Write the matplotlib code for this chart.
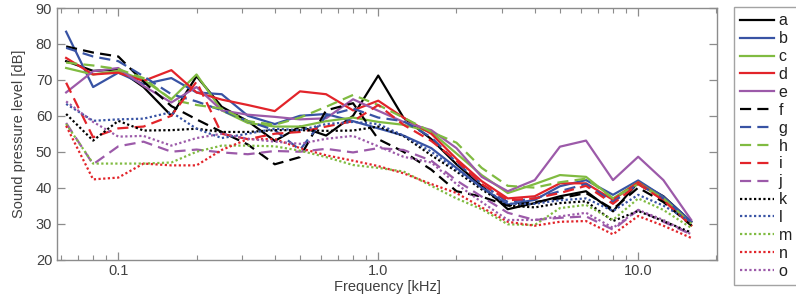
import matplotlib
matplotlib.use("Agg")
import matplotlib.pyplot as plt
from matplotlib.ticker import FixedLocator, FuncFormatter, NullFormatter, LogLocator
import numpy as np

plt.rcParams['font.family'] = ['Liberation Sans', 'DejaVu Sans']

freqs = [0.063, 0.08, 0.1, 0.125, 0.16, 0.2, 0.25, 0.315, 0.4, 0.5, 0.63, 0.8,
         1.0, 1.25, 1.6, 2.0, 2.5, 3.15, 4.0, 5.0, 6.3, 8.0, 10.0, 12.5, 16.0]

a = [75.2, 72.5, 72.9, 68.0, 60.0, 71.0, 62.5, 58.5, 53.0, 57.0, 54.5, 60.0, 71.2, 59.5, 53.5, 46.5, 40.5, 34.0, 35.7, 37.6, 39.0, 33.4, 41.5, 37.6, 30.5]
b = [83.4, 68.0, 72.0, 68.8, 70.5, 66.5, 66.0, 60.0, 57.7, 60.0, 60.5, 58.5, 56.5, 54.5, 51.0, 45.5, 40.0, 35.3, 36.6, 40.4, 42.1, 38.0, 42.0, 37.5, 30.5]
c = [73.3, 71.5, 72.5, 70.0, 64.6, 71.5, 61.5, 58.0, 57.0, 57.0, 58.5, 59.5, 58.3, 57.5, 55.5, 49.5, 43.5, 38.5, 41.0, 43.5, 43.0, 37.0, 41.5, 37.0, 29.5]
d = [76.1, 71.5, 72.0, 69.7, 72.7, 66.5, 64.5, 63.0, 61.3, 66.8, 66.0, 61.5, 64.2, 59.5, 55.0, 48.0, 41.8, 37.0, 37.6, 41.2, 41.2, 36.6, 41.5, 36.5, 29.5]
e = [66.5, 72.4, 73.3, 68.3, 63.7, 68.0, 61.5, 60.3, 59.7, 59.0, 59.3, 64.6, 61.4, 58.3, 56.0, 51.0, 43.0, 39.0, 42.1, 51.4, 53.1, 42.1, 48.6, 42.1, 31.0]
f = [79.3, 77.6, 76.5, 69.5, 62.7, 59.0, 55.5, 52.0, 46.5, 48.5, 61.5, 63.5, 53.5, 50.0, 45.0, 39.0, 37.5, 35.0, 36.0, 37.0, 38.5, 34.0, 40.0, 36.0, 29.5]
g = [78.9, 76.5, 75.2, 71.0, 66.0, 64.0, 61.5, 58.5, 56.0, 50.5, 60.0, 62.0, 59.5, 58.5, 54.0, 47.0, 41.0, 36.0, 37.0, 39.0, 41.0, 36.0, 41.0, 37.0, 30.5]
h = [74.8, 74.0, 73.0, 70.5, 64.5, 63.0, 62.0, 58.5, 57.5, 59.5, 62.5, 65.8, 63.0, 59.5, 55.5, 52.5, 45.5, 40.5, 40.0, 41.5, 42.5, 37.0, 41.0, 37.0, 30.0]
i = [69.2, 54.0, 56.5, 57.0, 60.0, 69.5, 55.0, 53.5, 55.0, 55.5, 57.0, 58.5, 63.0, 57.5, 53.0, 47.5, 41.0, 36.5, 37.0, 38.5, 40.5, 35.5, 41.0, 36.5, 29.5]
j = [58.0, 46.5, 51.5, 52.8, 50.0, 50.6, 49.8, 49.3, 50.2, 50.0, 50.8, 49.8, 51.0, 50.5, 47.5, 42.0, 37.5, 33.0, 31.0, 31.6, 32.0, 28.3, 33.8, 30.5, 27.0]
k = [60.5, 53.1, 58.6, 55.9, 56.0, 56.4, 55.5, 55.5, 56.0, 56.0, 55.8, 55.9, 57.0, 54.4, 49.0, 44.5, 39.5, 35.0, 34.5, 35.7, 36.2, 30.7, 33.5, 30.7, 27.5]
l = [63.3, 58.6, 59.0, 59.2, 61.0, 56.4, 53.8, 55.0, 56.4, 56.0, 57.7, 58.3, 57.7, 54.5, 50.0, 45.0, 40.0, 35.5, 35.5, 36.5, 37.0, 33.5, 38.0, 35.0, 30.5]
m = [57.7, 46.7, 46.7, 46.7, 47.0, 50.0, 51.7, 51.7, 51.5, 50.3, 48.5, 46.3, 45.5, 44.5, 40.5, 37.0, 34.0, 29.8, 29.6, 34.3, 35.2, 31.0, 37.0, 33.8, 28.8]
n = [57.2, 42.3, 42.8, 46.7, 46.2, 46.2, 50.5, 53.5, 53.5, 51.0, 49.0, 47.5, 46.0, 44.0, 41.0, 38.5, 34.5, 30.5, 29.4, 30.5, 30.7, 27.0, 32.1, 29.4, 26.0]
o = [64.0, 58.3, 54.2, 54.4, 51.7, 53.8, 55.0, 53.6, 52.8, 52.2, 53.6, 54.4, 51.5, 48.6, 47.0, 41.0, 36.0, 31.0, 31.0, 32.0, 33.0, 28.8, 33.8, 31.0, 27.0]

labels = list("abcdefghijklmno")
series = [a, b, c, d, e, f, g, h, i, j, k, l, m, n, o]

palette = ['#000000', '#3853a4', '#80bb41', '#e2242a', '#9c5aa9']
styles = ['-', (0, (5, 2.8)), (0, (1, 1.1))]

fig = plt.figure(figsize=(7.96, 2.98), dpi=100)
ax = fig.add_axes([57/796, 1 - 259.5/298, (717-57)/796, (259.5-8)/298])

for idx, (lab, vals) in enumerate(zip(labels, series)):
    col = palette[idx % 5]
    ls = styles[idx // 5]
    ax.plot(freqs, vals, color=col, linestyle=ls, linewidth=1.6, label=lab)

ax.set_xscale('log')
ax.set_xlim(0.0581, 20.1)
ax.set_ylim(20, 90)
ax.xaxis.set_major_locator(FixedLocator([0.1, 1.0, 10.0]))
ax.xaxis.set_major_formatter(FuncFormatter(lambda v, p: f"{v:.1f}"))
ax.xaxis.set_minor_locator(LogLocator(base=10, subs=np.arange(2, 10)))
ax.xaxis.set_minor_formatter(NullFormatter())
ax.set_yticks(np.arange(20, 91, 10))

gray = '#8c8c8c'
for sp in ax.spines.values():
    sp.set_color(gray)
    sp.set_linewidth(1.0)
ax.tick_params(which='both', direction='in', top=True, right=True, colors=gray,
               labelcolor='#404040', labelsize=10.5)
ax.tick_params(which='major', length=6, width=0.9)
ax.tick_params(which='minor', length=3.5, width=0.8)

ax.set_xlabel('Frequency [kHz]', fontsize=10.5, color='#404040', labelpad=1)
ax.set_ylabel('Sound pressure level [dB]', fontsize=10.5, color='#404040', labelpad=7)

leg = fig.legend(loc='upper left', bbox_to_anchor=(734/796, 1 - 7/298),
                 fontsize=11.5, frameon=True, fancybox=False, handlelength=2.1,
                 handletextpad=0.3, labelspacing=0.18, borderpad=0.4, borderaxespad=0)
leg.get_frame().set_edgecolor(gray)
leg.get_frame().set_linewidth(1.0)
for t in leg.get_texts():
    t.set_color('#202020')

fig.savefig('out.png', dpi=100)
